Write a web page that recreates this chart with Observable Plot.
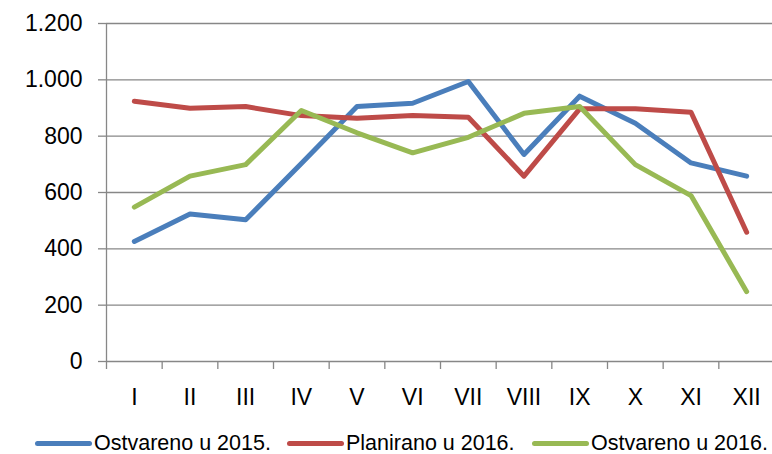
<!DOCTYPE html>
<html><head><meta charset="utf-8">
<script src="https://cdn.jsdelivr.net/npm/d3@7"></script>
<script src="https://cdn.jsdelivr.net/npm/@observablehq/plot@0.6"></script>
<style>
html,body{margin:0;padding:0;background:#fff;overflow:hidden;width:772px;height:454px}
#chart{position:relative;width:774px;height:454px;font-family:"Liberation Sans",Arial,sans-serif}
#chart svg{display:block}
.legend{position:absolute;top:431px;left:0;width:772px;height:25px;font-size:21.5px;color:#000;line-height:25px}
.item{position:absolute;top:0;height:25px;display:flex;align-items:center;white-space:nowrap}
.sw{width:57px;height:5px;border-radius:3px;margin-right:2px}
</style></head><body><div id="chart"></div><script>
const months = ["I","II","III","IV","V","VI","VII","VIII","IX","X","XI","XII"];
const ostvareno2015 = [426,524,503,703,905,917,994,735,942,846,705,658];
const planirano2016 = [924,899,905,873,864,873,867,658,897,897,885,459];
const ostvareno2016 = [548,658,699,891,812,741,796,881,905,699,589,248];
const seriesNames = ["Ostvareno u 2015.","Planirano u 2016.","Ostvareno u 2016."];
const seriesColors = ["#4A7EBB","#BE4B48","#98B954"];
const yTicks = [0,200,400,600,800,1000,1200];

const seriesValues = [ostvareno2015, planirano2016, ostvareno2016];
const data = seriesNames.flatMap((s, k) => months.map((m, i) => ({series: s, month: m, value: seriesValues[k][i]})));

const W = 774, ML = 106;
const step = (W - ML) / months.length;
const fmt = d3.formatLocale({decimal: ",", thousands: ".", grouping: [3], currency: ["", ""]}).format(",d");
const gray = "#878787";

const plot = Plot.plot({
  width: W, height: 420,
  marginLeft: ML, marginRight: 0, marginTop: 23, marginBottom: 59,
  style: {fontFamily: "'Liberation Sans', Arial, sans-serif", fontSize: "23px", color: "#000", background: "#fff", overflow: "visible"},
  x: {type: "point", domain: months, padding: 0.5, round: false, label: null},
  y: {domain: [0, 1200], label: null},
  color: {domain: seriesNames, range: seriesColors},
  marks: [
    Plot.gridY(yTicks, {stroke: gray, strokeOpacity: 1, strokeWidth: 1.3}),
    Plot.ruleX([months[0]], {x: d => d, dx: -step / 2, y1: 1200, y2: 0, insetBottom: -8, stroke: gray, strokeWidth: 1.3}),
    Plot.ruleX(months, {x: d => d, dx: step / 2, y1: 0, y2: 0, insetBottom: -8, stroke: gray, strokeWidth: 1.3}),
    Plot.axisY(yTicks, {tickSize: 8, tickPadding: 16, tickFormat: fmt, stroke: gray, strokeWidth: 1.3, fill: "#000", label: null}),
    Plot.axisX({tickSize: 0, tickPadding: 27, fill: "#000", label: null}),
    Plot.line(data, {x: "month", y: "value", z: "series", stroke: "series", strokeWidth: 5, strokeLinecap: "round", strokeLinejoin: "round"})
  ]
});
const chart = document.getElementById("chart");
chart.appendChild(plot);

const legend = document.createElement("div");
legend.className = "legend";
const legendLeft = [35, 287, 532];
seriesNames.forEach((s, k) => {
  const it = document.createElement("div");
  it.className = "item";
  it.style.left = legendLeft[k] + "px";
  const sw = document.createElement("span");
  sw.className = "sw";
  sw.style.background = seriesColors[k];
  const tx = document.createElement("span");
  tx.textContent = s;
  it.appendChild(sw); it.appendChild(tx);
  legend.appendChild(it);
});
chart.appendChild(legend);
</script></body></html>
